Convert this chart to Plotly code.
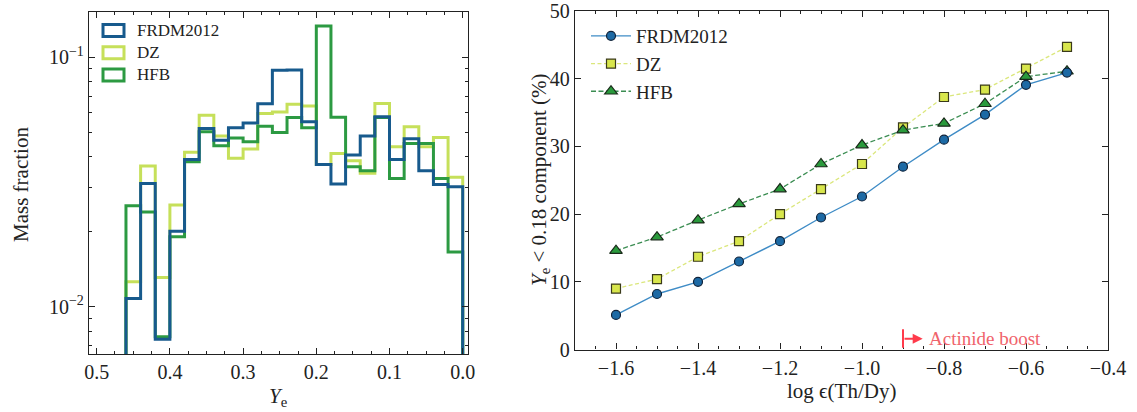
import plotly.graph_objects as go

# ---------------- data ----------------
# left panel: Ye bin edges (descending, axis reversed) and mass fractions per bin
ye_edges = [0.46, 0.44, 0.42, 0.40, 0.38, 0.36, 0.34, 0.32, 0.30, 0.28, 0.26, 0.24,
            0.22, 0.20, 0.18, 0.16, 0.14, 0.12, 0.10, 0.08, 0.06, 0.04, 0.02, 0.00]
frdm_hist = [0.0108, 0.0312, 0.00741, 0.0201, 0.0390, 0.0519, 0.0465, 0.0522, 0.0545,
             0.0652, 0.0887, 0.0890, 0.0552, 0.0372, 0.0311, 0.0406, 0.0484, 0.0578,
             0.0390, 0.0472, 0.0351, 0.0309, 0.0303]
dz_hist = [0.0126, 0.0367, 0.0131, 0.0256, 0.0417, 0.0586, 0.0484, 0.0394, 0.0429,
           0.0596, 0.0604, 0.0649, 0.0638, 0.0372, 0.0412, 0.0385, 0.0343, 0.0653,
           0.0438, 0.0527, 0.0438, 0.0477, 0.0331]
hfb_hist = [0.0254, 0.0240, 0.00759, 0.0191, 0.0382, 0.0503, 0.0442, 0.0475, 0.0459,
            0.0529, 0.0500, 0.0574, 0.0522, 0.1335, 0.0576, 0.0364, 0.0351, 0.0574,
            0.0327, 0.0452, 0.0452, 0.0327, 0.0166]
left_x_ticks = [0.5, 0.4, 0.3, 0.2, 0.1, 0.0]
left_y_tickvals = [0.01, 0.1]
left_y_ticktext = ["10<sup>\u22122</sup>", "10<sup>\u22121</sup>"]
left_y_minor = [0.007, 0.008, 0.009, 0.02, 0.03, 0.04, 0.05, 0.06, 0.07, 0.08, 0.09]

# right panel
log_th_dy = [-1.6, -1.5, -1.4, -1.3, -1.2, -1.1, -1.0, -0.9, -0.8, -0.7, -0.6, -0.5]
frdm_pct = [5.1, 8.2, 10.0, 13.0, 16.0, 19.5, 22.6, 27.0, 31.0, 34.7, 39.1, 40.9]
dz_pct = [9.0, 10.4, 13.7, 16.0, 20.0, 23.7, 27.4, 32.8, 37.3, 38.4, 41.5, 44.7]
hfb_pct = [14.6, 16.6, 19.1, 21.5, 23.7, 27.4, 30.2, 32.4, 33.4, 36.3, 40.3, 41.1]
boost_start = -0.9

# ---------------- style ----------------
FONT = "Liberation Serif"
AX = "#222222"
C_FRDM = "#175a8d"
C_DZ = "#c6e05a"
C_HFB = "#2c9a42"


def step_xy(edges, vals, floor=1e-4):
    xs, ys = [edges[0]], [floor]
    for i, v in enumerate(vals):
        xs += [edges[i], edges[i + 1]]
        ys += [v, v]
    xs.append(edges[-1])
    ys.append(floor)
    return xs, ys


fig = go.Figure()

# left histograms (DZ below, HFB, FRDM on top)
for vals, col in [(dz_hist, C_DZ), (hfb_hist, C_HFB), (frdm_hist, C_FRDM)]:
    xs, ys = step_xy(ye_edges, vals)
    fig.add_trace(go.Scatter(x=xs, y=ys, mode="lines", line=dict(color=col, width=3),
                             showlegend=False, hoverinfo="skip", xaxis="x", yaxis="y"))

# right panel lines
fig.add_trace(go.Scatter(x=log_th_dy, y=dz_pct, mode="lines+markers", name="DZ", legendrank=2,
                         line=dict(color="#dbe77c", width=1.3, dash="4px,2.5px"),
                         marker=dict(symbol="square", size=9, color="#d8e64c",
                                     line=dict(color="#3a3a1a", width=1.2)),
                         xaxis="x2", yaxis="y2"))
fig.add_trace(go.Scatter(x=log_th_dy, y=hfb_pct, mode="lines+markers", name="HFB", legendrank=3,
                         line=dict(color="#3b8d52", width=1.3, dash="5px,2.5px"),
                         marker=dict(symbol="triangle-up", size=11, color="#2a9a3c",
                                     line=dict(color="#1a2a1a", width=1.2)),
                         xaxis="x2", yaxis="y2"))
fig.add_trace(go.Scatter(x=log_th_dy, y=frdm_pct, mode="lines+markers", name="FRDM2012", legendrank=1,
                         line=dict(color="#3f8cc6", width=1.4),
                         marker=dict(symbol="circle", size=9, color="#1d6aa5",
                                     line=dict(color="#10233a", width=1.2)),
                         xaxis="x2", yaxis="y2"))

axis_common = dict(showline=True, linecolor=AX, linewidth=1.3, mirror="allticks",
                   ticks="inside", ticklen=6, tickwidth=1, tickcolor=AX,
                   showgrid=False, zeroline=False, automargin=False,
                   tickfont=dict(family=FONT, size=20, color=AX))

W, H = 1137, 412
fig.update_layout(
    width=W, height=H, margin=dict(l=0, r=0, t=0, b=0, pad=0, autoexpand=False),
    paper_bgcolor="white", plot_bgcolor="white",
    font=dict(family=FONT, color=AX),
    xaxis=dict(domain=[89 / W, 467.7 / W], range=[0.5105, -0.0068],
               tickmode="array", tickvals=left_x_ticks,
               ticktext=["%.1f" % v for v in left_x_ticks],
               minor=dict(ticks="inside", ticklen=3, tickcolor=AX, dtick=0.025, tick0=0),
               **axis_common),
    yaxis=dict(domain=[1 - 354 / H, 1 - 11.7 / H], type="log", range=[-2.189, -0.817],
               tickmode="array", tickvals=left_y_tickvals, ticktext=left_y_ticktext,
               minor=dict(ticks="inside", ticklen=3, tickcolor=AX, tickvals=left_y_minor),
               **axis_common),
    xaxis2=dict(domain=[575 / W, 1108 / W], range=[-1.7, -0.4], anchor="y2",
                dtick=0.2, tick0=0, tickformat=".1f",
                minor=dict(ticks="inside", ticklen=3, tickcolor=AX, dtick=0.05, tick0=0),
                **axis_common),
    yaxis2=dict(domain=[1 - 349.5 / H, 1 - 11 / H], range=[0, 50], anchor="x2",
                dtick=10, **axis_common),
    legend=dict(x=586 / W, y=1 - 17 / H, xanchor="left", yanchor="top",
                bgcolor="rgba(0,0,0,0)", font=dict(family=FONT, size=19, color=AX),
                tracegroupgap=0, itemwidth=40),
)

# left legend (patch boxes)
shapes = []
annotations = []
for i, (name, col) in enumerate([("FRDM2012", C_FRDM), ("DZ", C_DZ), ("HFB", C_HFB)]):
    yc = 30.5 + i * 22.2
    shapes.append(dict(type="rect", xref="paper", yref="paper",
                       x0=103 / W, x1=124 / W, y0=1 - (yc - 6) / H, y1=1 - (yc + 6) / H,
                       line=dict(color=col, width=3), fillcolor="rgba(0,0,0,0)"))
    annotations.append(dict(xref="paper", yref="paper", x=135 / W, y=1 - yc / H,
                            text=name, showarrow=False, xanchor="left", yanchor="middle",
                            font=dict(family=FONT, size=17, color=AX)))

# axis titles
annotations += [
    dict(xref="paper", yref="paper", x=21 / W, y=1 - 185 / H, text="Mass fraction",
         textangle=-90, showarrow=False, xanchor="center", yanchor="middle",
         font=dict(family=FONT, size=21, color=AX)),
    dict(xref="paper", yref="paper", x=(89 + 467.7) / 2 / W, y=1 - 397 / H,
         text="<i>Y</i><sub>e</sub>", showarrow=False, xanchor="center", yanchor="middle",
         font=dict(family=FONT, size=21, color=AX)),
    dict(xref="paper", yref="paper", x=(575 + 1108) / 2 / W, y=1 - 391 / H,
         text="log \u03f5(Th/Dy)", showarrow=False, xanchor="center", yanchor="middle",
         font=dict(family=FONT, size=21, color=AX)),
    dict(xref="paper", yref="paper", x=540 / W, y=1 - 180 / H,
         text="<i>Y</i><sub>e</sub> &lt; 0.18 component (%)", textangle=-90,
         showarrow=False, xanchor="center", yanchor="middle",
         font=dict(family=FONT, size=21, color=AX)),
]

# actinide boost marker
shapes.append(dict(type="line", xref="x2", yref="y2", x0=boost_start, x1=boost_start,
                   y0=0.25, y1=3.0, line=dict(color="#ff3b4b", width=2)))
annotations.append(dict(xref="x2", yref="y2", axref="x2", ayref="y2",
                        x=boost_start + 0.048, y=1.6, ax=boost_start, ay=1.6, text="",
                        showarrow=True, arrowhead=2, arrowsize=1, arrowwidth=2,
                        arrowcolor="#ff3b4b"))
annotations.append(dict(xref="x2", yref="y2", x=boost_start + 0.058, y=1.6,
                        text="Actinide boost", showarrow=False, xanchor="left",
                        yanchor="middle", font=dict(family=FONT, size=19, color="#f0636b")))

fig.update_layout(shapes=shapes, annotations=annotations)
fig.write_html("out.html", config={"displayModeBar": False},
               post_script="document.body.style.margin='0';document.body.style.padding='0';"
                           "window.dispatchEvent(new Event('resize'));")
